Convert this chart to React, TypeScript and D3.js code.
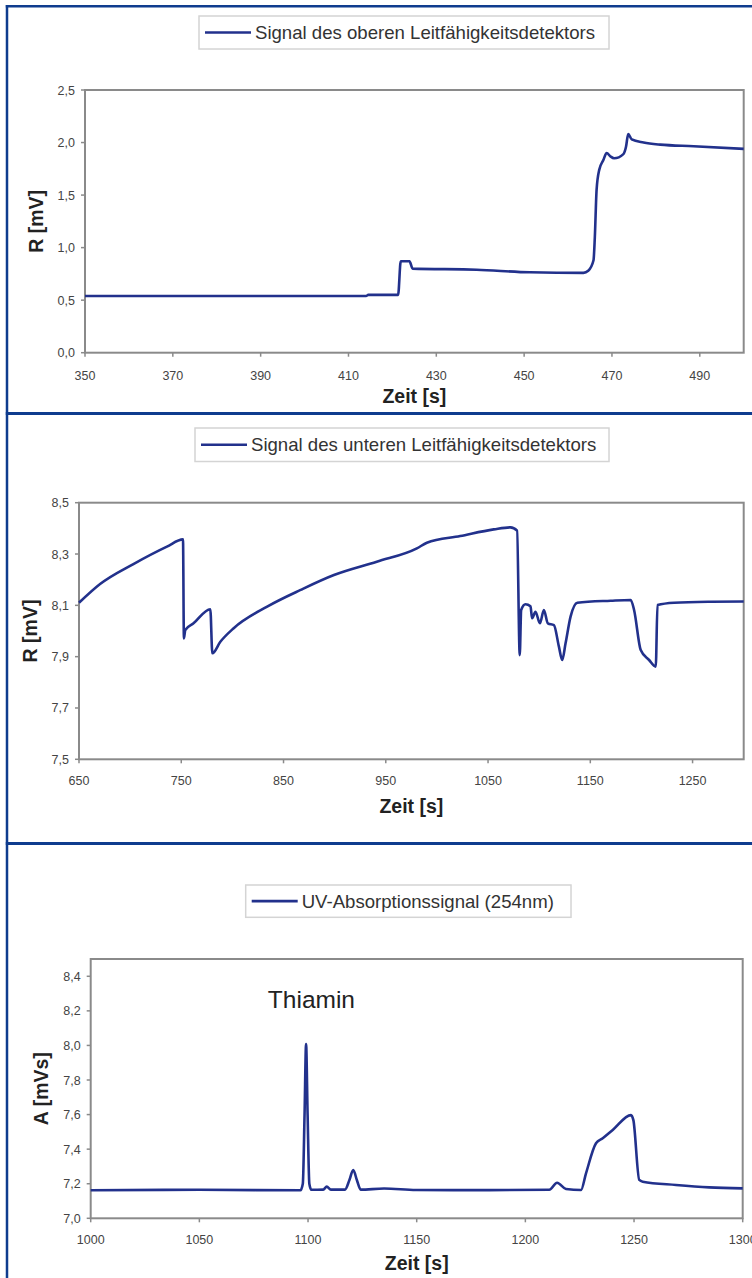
import React from "react";
import * as d3 from "d3";

// ---------- DATA ----------
const topTime = [350, 414, 414.5, 421.3, 421.9, 423.9, 424.6, 439.2, 451.3, 463.5, 464.6, 465.8, 466.1, 466.5, 467.1, 468.0, 468.8, 469.6, 470.5, 472.6, 473.2, 473.7, 474.5, 477.2, 481, 488.6, 500];
const topValue = [0.54, 0.54, 0.55, 0.55, 0.87, 0.87, 0.80, 0.79, 0.765, 0.76, 0.78, 0.88, 1.1, 1.55, 1.74, 1.83, 1.90, 1.87, 1.85, 1.89, 1.96, 2.08, 2.03, 2.0, 1.98, 1.965, 1.94];

const midTime = [650, 670.6, 703.2, 736, 751.7, 752.6, 753.9, 762, 778.4, 780.4, 788.2, 801.3, 834, 866.7, 899.3, 941.2, 980.4, 990.2, 1022.8, 1055.6, 1071.9, 1078.4, 1081, 1082.4, 1086.6, 1091.5, 1093.1, 1096.4, 1100.7, 1104.6, 1108.5, 1114.4, 1119.3, 1122.5, 1125.8, 1130.7, 1137.3, 1169.9, 1189.5, 1192.8, 1199.3, 1207.5, 1214, 1215.7, 1232, 1268, 1300];
const midValue = [8.11, 8.183, 8.261, 8.329, 8.357, 7.971, 8.004, 8.03, 8.085, 7.913, 7.958, 8.011, 8.095, 8.16, 8.218, 8.27, 8.322, 8.344, 8.37, 8.396, 8.404, 8.391, 7.906, 8.082, 8.104, 8.096, 8.05, 8.075, 8.03, 8.082, 8.03, 8.023, 7.939, 7.887, 7.952, 8.056, 8.11, 8.118, 8.121, 8.082, 7.926, 7.887, 7.861, 8.101, 8.11, 8.114, 8.115];

const uvTime = [1000, 1050, 1096.5, 1097.6, 1098.4, 1099.1, 1099.8, 1100.6, 1101.5, 1107, 1108.6, 1110.5, 1117, 1119, 1120.8, 1122.5, 1124.2, 1135, 1149.7, 1180, 1211, 1214.6, 1218.7, 1225.6, 1227.9, 1232.5, 1235.6, 1240.2, 1248.6, 1249.7, 1252.4, 1254, 1269.3, 1284.6, 1300];
const uvValue = [7.162, 7.165, 7.162, 7.2, 7.6, 8.008, 7.6, 7.2, 7.165, 7.166, 7.183, 7.166, 7.166, 7.22, 7.279, 7.22, 7.166, 7.172, 7.164, 7.163, 7.165, 7.206, 7.17, 7.164, 7.26, 7.434, 7.463, 7.511, 7.597, 7.568, 7.222, 7.212, 7.193, 7.179, 7.173];

const topXTicks = [350, 370, 390, 410, 430, 450, 470, 490];
const topYTicks = [0, 0.5, 1.0, 1.5, 2.0, 2.5];
const midXTicks = [650, 750, 850, 950, 1050, 1150, 1250];
const midYTicks = [7.5, 7.7, 7.9, 8.1, 8.3, 8.5];
const uvXTicks = [1000, 1050, 1100, 1150, 1200, 1250, 1300];
const uvYTicks = [7.0, 7.2, 7.4, 7.6, 7.8, 8.0, 8.2, 8.4];

const topLegend = "Signal des oberen Leitfähigkeitsdetektors";
const midLegend = "Signal des unteren Leitfähigkeitsdetektors";
const uvLegend = "UV-Absorptionssignal (254nm)";
const xTitle = "Zeit [s]";
const topYTitle = "R [mV]";
const midYTitle = "R [mV]";
const uvYTitle = "A [mVs]";
const peakLabel = "Thiamin";

// ---------- STYLE ----------
const FONT = "'Liberation Sans', Arial, Helvetica, sans-serif";
const LINE = "#22318c";
const BORDER = "#0f3c8e";
const FRAME = "#8a8a8a";

const fmtY = (v: number) => d3.format(".1f")(v).replace(".", ",");

type PanelProps = {
  times: number[];
  values: number[];
  xDomain: [number, number];
  yDomain: [number, number];
  xTicks: number[];
  yTicks: number[];
  left: number;
  right: number;
  top: number;
  bottom: number;
  legend: string;
  legendBox: { x: number; y: number; w: number; h: number };
  yTitle: string;
  yTitleX: number;
  xTitleY: number;
  xTickY: number;
  children?: React.ReactNode;
};

function Panel(p: PanelProps) {
  const x = d3.scaleLinear().domain(p.xDomain).range([p.left, p.right]);
  const y = d3.scaleLinear().domain(p.yDomain).range([p.bottom, p.top]);
  const pts = p.times.map((t, i) => [t, p.values[i]] as [number, number]);
  const line = d3
    .line<[number, number]>()
    .x((d) => x(d[0]))
    .y((d) => y(d[1]))
    .curve(d3.curveMonotoneX);
  const lb = p.legendBox;
  const cy = lb.y + lb.h / 2;
  return (
    <g>
      {/* legend */}
      <rect x={lb.x} y={lb.y} width={lb.w} height={lb.h} fill="#fff" stroke="#d4d4d4" strokeWidth={1.5} />
      <line x1={lb.x + 6} x2={lb.x + 52} y1={cy} y2={cy} stroke={LINE} strokeWidth={2.6} />
      <text x={lb.x + 56} y={cy} dy="0.36em" fontFamily={FONT} fontSize={18.6} fill="#333">
        {p.legend}
      </text>
      {/* plot frame */}
      <rect x={p.left} y={p.top} width={p.right - p.left} height={p.bottom - p.top} fill="#fff" stroke={FRAME} strokeWidth={2} />
      {/* y ticks */}
      {p.yTicks.map((t) => (
        <g key={"y" + t}>
          <line x1={p.left - 4} x2={p.left} y1={y(t)} y2={y(t)} stroke={FRAME} strokeWidth={1.5} />
          <text x={p.left - 10} y={y(t)} dy="0.36em" textAnchor="end" fontFamily={FONT} fontSize={12.5} fill="#444">
            {fmtY(t)}
          </text>
        </g>
      ))}
      {/* x ticks */}
      {p.xTicks.map((t) => (
        <g key={"x" + t}>
          <line x1={x(t)} x2={x(t)} y1={p.bottom} y2={p.bottom + 4} stroke={FRAME} strokeWidth={1.5} />
          <text x={x(t)} y={p.xTickY} textAnchor="middle" fontFamily={FONT} fontSize={12.5} fill="#444">
            {t}
          </text>
        </g>
      ))}
      {/* data line */}
      <path d={line(pts) || ""} fill="none" stroke={LINE} strokeWidth={2.6} strokeLinejoin="round" />
      {/* titles */}
      <text
        x={p.yTitleX}
        y={(p.top + p.bottom) / 2}
        transform={`rotate(-90 ${p.yTitleX} ${(p.top + p.bottom) / 2})`}
        textAnchor="middle"
        dy="0.36em"
        fontFamily={FONT}
        fontWeight="bold"
        fontSize={19.5}
        fill="#222"
      >
        {p.yTitle}
      </text>
      <text x={(p.left + p.right) / 2} y={p.xTitleY} textAnchor="middle" fontFamily={FONT} fontWeight="bold" fontSize={19.5} fill="#222">
        {xTitle}
      </text>
      {p.children}
    </g>
  );
}

export default function App() {
  const W = 752;
  const H = 1278;
  const xUv = d3.scaleLinear().domain([1000, 1300]).range([90.7, 742.7]);
  const yUv = d3.scaleLinear().domain([7.0, 8.5]).range([1218.3, 959]);
  return (
    <svg width={W} height={H} style={{ position: "absolute", left: 0, top: 0, display: "block" }}>
      <rect x={0} y={0} width={W} height={H} fill="#fff" />
      <Panel
        times={topTime}
        values={topValue}
        xDomain={[350, 500]}
        yDomain={[0, 2.5]}
        xTicks={topXTicks}
        yTicks={topYTicks}
        left={85}
        right={743.7}
        top={90}
        bottom={352.7}
        legend={topLegend}
        legendBox={{ x: 199, y: 16, w: 410, h: 33 }}
        yTitle={topYTitle}
        yTitleX={36}
        xTitleY={403}
        xTickY={380}
      />
      <Panel
        times={midTime}
        values={midValue}
        xDomain={[650, 1300]}
        yDomain={[7.5, 8.5]}
        xTicks={midXTicks}
        yTicks={midYTicks}
        left={79}
        right={743.7}
        top={502.7}
        bottom={759.3}
        legend={midLegend}
        legendBox={{ x: 195, y: 428, w: 414, h: 33.5 }}
        yTitle={midYTitle}
        yTitleX={29.5}
        xTitleY={813}
        xTickY={785}
      />
      <Panel
        times={uvTime}
        values={uvValue}
        xDomain={[1000, 1300]}
        yDomain={[7.0, 8.5]}
        xTicks={uvXTicks}
        yTicks={uvYTicks}
        left={90.7}
        right={742.7}
        top={959}
        bottom={1218.3}
        legend={uvLegend}
        legendBox={{ x: 245.7, y: 885, w: 325.3, h: 32.3 }}
        yTitle={uvYTitle}
        yTitleX={41}
        xTitleY={1270}
        xTickY={1244}
      >
        <text x={xUv(1099) - 38} y={yUv(8.215)} fontFamily={FONT} fontSize={24.5} fill="#222">
          {peakLabel}
        </text>
      </Panel>
      {/* outer frame */}
      <line x1={5.8} x2={W} y1={6.2} y2={6.2} stroke={BORDER} strokeWidth={2.5} />
      <line x1={7} x2={7} y1={5} y2={H} stroke={BORDER} strokeWidth={2.5} />
      <line x1={5.8} x2={W} y1={413.5} y2={413.5} stroke={BORDER} strokeWidth={3} />
      <line x1={5.8} x2={W} y1={843.5} y2={843.5} stroke={BORDER} strokeWidth={3} />
    </svg>
  );
}
